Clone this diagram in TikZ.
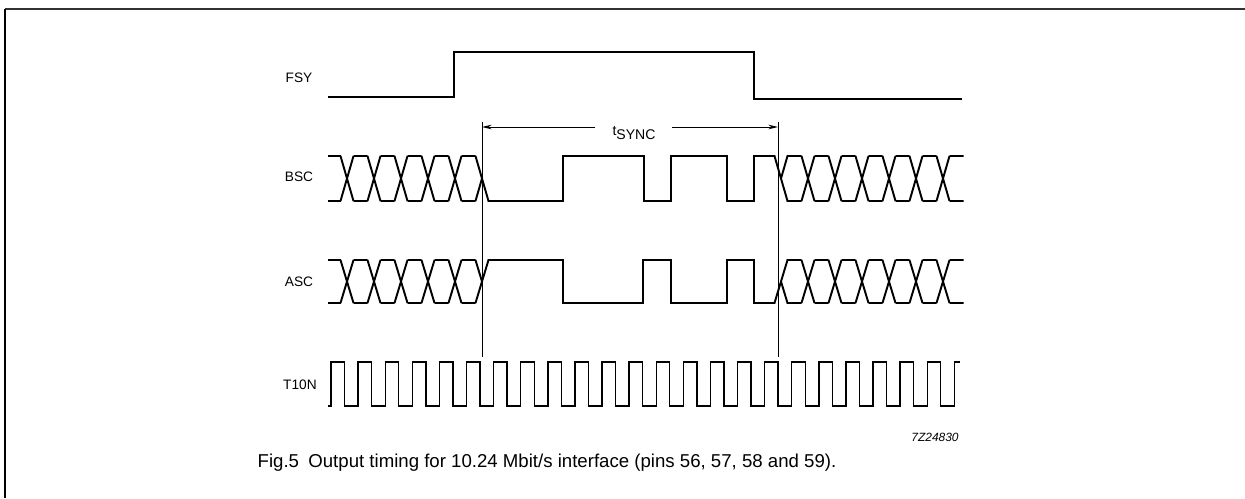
\documentclass[tikz,border=0pt]{standalone}
\usepackage{fontspec}
\setmainfont{Liberation Sans}
\usetikzlibrary{arrows.meta}
\newcommand\eyerun[3]{%
  \foreach \c in {#3}{%
    \draw[sig] (\c-6.5,#1) -- (\c+6.5,#2) (\c-6.5,#2) -- (\c+6.5,#1)
               (\c+6.5,#1) -- (\c+20.5,#1) (\c+6.5,#2) -- (\c+20.5,#2);
  }%
}
\begin{document}
\begin{tikzpicture}[x=0.02cm,y=-0.02cm,
  sig/.style={line width=1.1pt, line join=miter},
  clk/.style={line width=0.8pt, line join=miter},
  marker/.style={line width=0.45pt},
  lbl/.style={font=\fontsize{7.8}{9}\selectfont, inner sep=0pt},
  dim/.style={line width=0.5pt, -{Stealth[length=5.5pt,width=2.6pt]}}]
\useasboundingbox (0,0) rectangle (1245,498);
% frame
\draw[line width=1.3pt, black!80] (5,9) -- (1245,9);
\draw[line width=1pt, black] (5,9) -- (5,498);

% labels
\node[lbl] (fsy) at (299,78) {FSY};
\node[lbl] (bsc) at (299,177) {BSC};
\node[lbl] (asc) at (299,282) {ASC};
\node[lbl] (t10n) at (300,385) {T10N};

% FSY
\draw[sig, line width=0.9pt] (328,97) -- (454,97) -- (454,52) -- (754,52) -- (754,99) -- (962,99);

% BSC
\draw[sig] (328,156) -- (340.5,156) (328,201) -- (340.5,201);
\eyerun{156}{201}{347,374,401,428,455}
\draw[sig] (475.5,156) -- (488.5,201) -- (563,201) -- (563,156) -- (644,156) -- (644,201)
  -- (671,201) -- (671,156) -- (727,156) -- (727,201) -- (754,201) -- (754,156)
  -- (774.5,156) -- (787.5,201) -- (801.5,201);
\draw[sig] (475.5,201) -- (482,178.5);
\draw[sig] (781,178.5) -- (787.5,156) -- (801.5,156);
\eyerun{156}{201}{808,835,862,889,916,943}

% ASC
\draw[sig] (328,260) -- (340.5,260) (328,303) -- (340.5,303);
\eyerun{260}{303}{347,374,401,428,455}
\draw[sig] (475.5,303) -- (488.5,260) -- (563,260) -- (563,303) -- (643,303) -- (643,260)
  -- (671,260) -- (671,303) -- (727,303) -- (727,260) -- (754,260) -- (754,303)
  -- (774.5,303) -- (787.5,260) -- (801.5,260);
\draw[sig] (475.5,260) -- (482,281.5);
\draw[sig] (781,281.5) -- (787.5,303) -- (801.5,303);
\eyerun{260}{303}{808,835,862,889,916,943}

% T10N
\draw[clk] (328,406) foreach \k in {0,...,22} {
    -- ({331+27.1*\k},406) -- ({331+27.1*\k},362)
    -- ({344.55+27.1*\k},362) -- ({344.55+27.1*\k},406) }
  -- (954.3,406) -- (954.3,362) -- (960,362);

% timing markers
\coordinate (mlt) at (482,122);
\coordinate (mlb) at (482,357);
\coordinate (mrt) at (778,122);
\coordinate (mrb) at (778,357);
\draw[marker] (mlt) -- (mlb);
\draw[marker] (mrt) -- (mrb);
\node[font=\fontsize{8}{9}\selectfont, inner sep=1pt] (ts) at (634,133)
  {t\raisebox{-0.45ex}{SYNC}};
\coordinate (al) at (482,127);
\coordinate (ar) at (778,127);
\coordinate (gl) at (595,127);
\coordinate (gr) at (672,127);
\draw[dim] (gl) -- (al);
\draw[dim] (gr) -- (ar);

% code and caption
\node[font=\fontsize{6.8}{8}\selectfont\itshape, inner sep=0pt] (code) at (935,437) {7Z24830};
\node[font=\fontsize{10.6}{12}\selectfont, inner sep=0pt] (cap) at (547,463)
  {Fig.5\enspace Output timing for 10.24 Mbit/s interface (pins 56, 57, 58 and 59).};
\end{tikzpicture}
\end{document}
